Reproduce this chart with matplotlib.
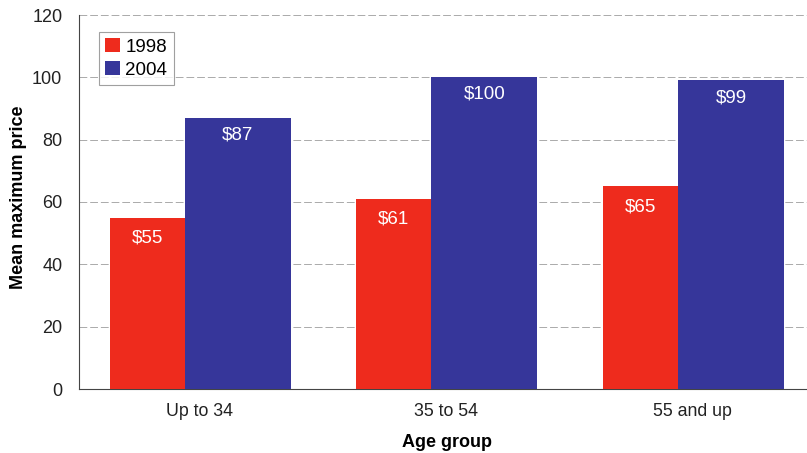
import matplotlib
matplotlib.use("Agg")
import matplotlib.pyplot as plt
import numpy as np

plt.rcParams["font.family"] = ["Liberation Sans", "DejaVu Sans"]

categories = ["Up to 34", "35 to 54", "55 and up"]
years = ["1998", "2004"]
values_1998 = [55, 61, 65]
values_2004 = [87, 100, 99]
yticks = [0, 20, 40, 60, 80, 100, 120]

red = "#ee2b1d"
blue = "#36369a"

fig = plt.figure(figsize=(8.07, 4.53), dpi=100)
ax = fig.add_axes([79/807, 64/453, 737/807, 374/453])

x = np.arange(len(categories))
ax.bar(x - 0.365, values_1998, width=0.305, align="edge", color=red, label=years[0], zorder=3)
ax.bar(x - 0.06, values_2004, width=0.43, align="edge", color=blue, label=years[1], zorder=3)

for xi, v in zip(x, values_1998):
    ax.text(xi - 0.365 + 0.305/2, v - 6.5, f"${v}", ha="center", va="center",
            color="white", fontsize=13.5, zorder=4)
for xi, v in zip(x, values_2004):
    ax.text(xi - 0.06 + 0.43/2, v - 5.5, f"${v}", ha="center", va="center",
            color="white", fontsize=13.5, zorder=4)

ax.set_xlim(-0.49, 2.5)
ax.set_ylim(0, 120)
ax.set_yticks(yticks)
ax.set_xticks(x)
ax.set_xticklabels(categories, fontsize=12.8, color="#222222")
ax.tick_params(axis="y", labelsize=13, labelcolor="#222222", length=0, pad=12)
ax.tick_params(axis="x", length=0, pad=10)
ax.yaxis.grid(True, color="#aaaaaa", linestyle=(0, (8, 3)), linewidth=0.7, zorder=0)

for s in ["top", "right"]:
    ax.spines[s].set_visible(False)
ax.spines["left"].set_color("#444444")
ax.spines["bottom"].set_color("#444444")

ax.set_ylabel("Mean maximum price", fontsize=13, fontweight="bold")
ax.yaxis.set_label_coords(-0.0706, 0.513)
ax.set_xlabel("Age group", fontsize=13, fontweight="bold", labelpad=10)

leg = ax.legend(loc="upper left", bbox_to_anchor=(0.027, 0.955), borderaxespad=0,
                fontsize=13.5, frameon=True, fancybox=False, edgecolor="#888888",
                handlelength=0.75, handleheight=0.75, handletextpad=0.3,
                borderpad=0.35, labelspacing=0.3)
leg.get_frame().set_linewidth(0.8)

fig.savefig("out.png", dpi=100)
